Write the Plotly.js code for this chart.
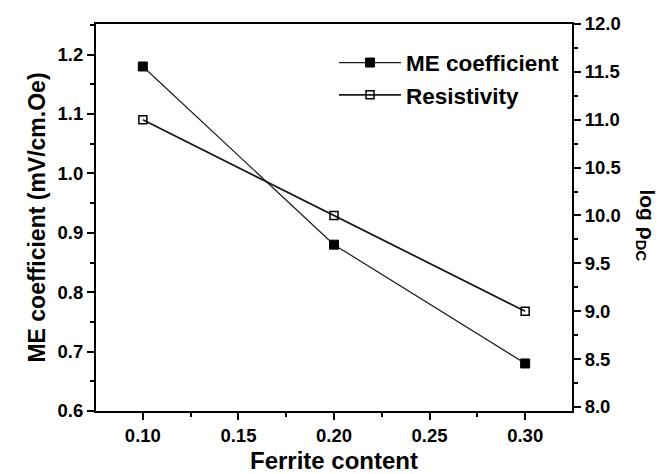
<!DOCTYPE html>
<html>
<head>
<meta charset="utf-8">
<script src="https://cdn.plot.ly/plotly-3.0.1.min.js"></script>
<style>html,body{margin:0;padding:0;background:#fff;}#chart{width:667px;height:474px;}</style>
</head>
<body>
<div id="chart"></div>
<script>
// Data
const ferriteContent = [0.10, 0.20, 0.30];
const meCoefficient = [1.18, 0.88, 0.68];
const logResistivity = [11.0, 10.0, 9.0];
const seriesNames = ["ME coefficient", "Resistivity"];
const xTitle = "Ferrite content";
const yTitle = "ME coefficient (mV/cm.Oe)";
const y2Title = "log \u03C1<sub>DC</sub>";

const FONT = "Liberation Sans, Arial, sans-serif";

const traces = [
  {
    x: ferriteContent, y: meCoefficient, name: seriesNames[0],
    type: "scatter", mode: "lines+markers",
    line: {color: "#1a1a1a", width: 1.2},
    marker: {symbol: "square", size: 9, color: "#000", line: {color: "#000", width: 1}},
    yaxis: "y"
  },
  {
    x: ferriteContent, y: logResistivity, name: seriesNames[1],
    type: "scatter", mode: "lines+markers",
    line: {color: "#1a1a1a", width: 1.8},
    marker: {symbol: "square-open", size: 8, color: "#000", line: {color: "#000", width: 1.5}},
    yaxis: "y2"
  }
];

function tickFont() { return {family: FONT, size: 18.5, color: "#000", weight: "bold"}; }

const axisCommon = {
  showgrid: false, zeroline: false,
  showline: true, linecolor: "#000", linewidth: 2,
  ticks: "outside", ticklen: 7, tickwidth: 2, tickcolor: "#000"
};

const layout = {
  width: 667, height: 474,
  margin: {l: 96, r: 95, t: 24, b: 63},
  paper_bgcolor: "#fff", plot_bgcolor: "#fff",
  font: {family: FONT, color: "#000", weight: "bold"},
  showlegend: true,
  legend: {
    x: 0.5, y: 0.955, xanchor: "left", yanchor: "top",
    bgcolor: "rgba(0,0,0,0)", borderwidth: 0,
    font: {family: FONT, size: 22.5, color: "#000", weight: "bold"},
    itemwidth: 62, tracegroupgap: 0
  },
  xaxis: Object.assign({}, axisCommon, {
    range: [0.0755, 0.3245], tick0: 0.1, dtick: 0.05, tickformat: ".2f",
    mirror: true, tickfont: tickFont(),
    minor: {dtick: 0.025, tick0: 0.1, ticks: "outside", ticklen: 4, tickwidth: 2, tickcolor: "#000"},
    title: {text: xTitle, font: {family: FONT, size: 24, color: "#000", weight: "bold"}, standoff: 8}
  }),
  yaxis: Object.assign({}, axisCommon, {
    range: [0.6, 1.2515], tick0: 0.6, dtick: 0.1, tickformat: ".1f",
    tickfont: tickFont(),
    minor: {dtick: 0.05, tick0: 0.6, ticks: "outside", ticklen: 4, tickwidth: 2, tickcolor: "#000"},
    title: {text: yTitle, font: {family: FONT, size: 23, color: "#000", weight: "bold"}, standoff: 6}
  }),
  yaxis2: Object.assign({}, axisCommon, {
    overlaying: "y", side: "right",
    range: [7.958, 12.0], tick0: 8, dtick: 0.5, tickformat: ".1f",
    tickfont: tickFont(),
    minor: {dtick: 0.25, tick0: 8, ticks: "outside", ticklen: 4, tickwidth: 2, tickcolor: "#000"}
  }),
  annotations: [{
    text: y2Title, xref: "paper", yref: "paper",
    x: 1.155, y: 0.48, xanchor: "center", yanchor: "middle",
    textangle: 90, showarrow: false,
    font: {family: FONT, size: 21, color: "#000", weight: "bold"}
  }]
};

Plotly.newPlot("chart", traces, layout, {displayModeBar: false, staticPlot: true});
</script>
</body>
</html>
